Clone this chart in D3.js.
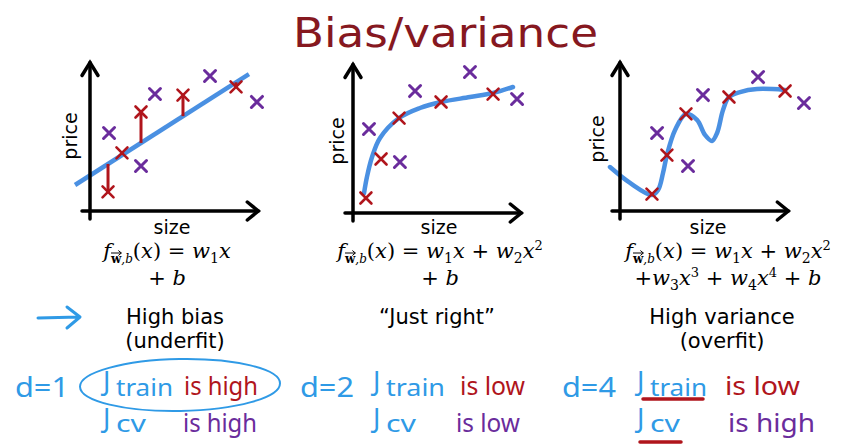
<!DOCTYPE html>
<html>
<head>
<meta charset="utf-8">
<script src="https://cdn.jsdelivr.net/npm/d3@7"></script>
<style>
  body { margin: 0; background: #fff; }
  svg { display: block; }
</style>
</head>
<body>
<div id="chart"></div>
<script>
// data, in (size, price) units of 0..10
var trainHigh = [[1.06, 1.27], [1.88, 3.87], [3.0, 6.6], [5.47, 7.73], [8.59, 8.27]]
var cvHigh = [[1.12, 5.2], [3.82, 7.8], [3.0, 3.0], [7.06, 9.0], [9.82, 7.27]]
var lineFit = { w1: 0.723, b: 2.37, from: -0.88, to: 9.35 }

var trainMid = [[0.76, 1.0], [1.65, 3.6], [2.71, 6.33], [5.18, 7.4], [8.24, 7.93]]
var cvMid = [[0.94, 5.6], [2.76, 3.4], [3.65, 8.13], [6.88, 9.4], [9.65, 7.6]]
var curveMid = [[0.65, 1.33], [0.82, 2.4], [1.12, 3.73], [1.59, 5.0], [2.71, 6.33],
  [3.94, 7.0], [5.18, 7.4], [6.88, 7.73], [8.24, 8.0], [9.41, 8.4]]

var trainLow = [[1.88, 1.13], [2.76, 3.73], [3.88, 6.47], [6.41, 7.6], [9.71, 8.0]]
var cvLow = [[2.18, 5.2], [4.0, 3.0], [4.88, 7.73], [8.12, 8.93], [10.82, 7.2]]
var curveLow = [[-0.59, 2.93], [0.59, 1.87], [1.88, 1.07], [2.24, 1.4], [2.53, 2.53],
  [2.76, 3.73], [3.24, 5.4], [3.88, 6.47], [4.53, 6.07], [5.0, 5.07], [5.41, 4.67],
  [5.71, 5.2], [6.06, 6.73], [6.41, 7.6], [7.06, 7.93], [8.06, 8.13], [9.71, 8.07]]

var fitLabels = [['High bias', '(underfit)'], ['\u201cJust right\u201d'], ['High variance', '(overfit)']]
var degrees = ['d=1', 'd=2', 'd=4']
var trainVerdict = ['is high', 'is low', 'is low']
var cvVerdict = ['is high', 'is low', 'is high']

var width = 841
var height = 444

var svg = d3.select('#chart')
  .append('svg')
  .attr('width', width)
  .attr('height', height)

var RED = '#b0151c'
var PURPLE = '#6a2c9c'
var BLUE = '#4a90e2'
var INK = '#2f9ae6'

// title
svg.append('text')
  .attr('x', 293)
  .attr('y', 47)
  .attr('font-family', 'DejaVu Sans')
  .attr('font-size', 41)
  .attr('fill', '#86181f')
  .attr('textLength', 305)
  .attr('lengthAdjust', 'spacingAndGlyphs')
  .text('Bias/variance')

var panels = [
  { ox: 90, oy: 211, train: trainHigh, cv: cvHigh, priceX: 77, priceY: 136, sizeX: 172 },
  { ox: 353, oy: 213, train: trainMid, cv: cvMid, curve: curveMid, priceX: 344, priceY: 141, sizeX: 439 },
  { ox: 620, oy: 211, train: trainLow, cv: cvLow, curve: curveLow, priceX: 604, priceY: 139, sizeX: 708 }
]

var cross = 'M-5.5,-5.5L5.5,5.5M-5.5,5.5L5.5,-5.5'

panels.forEach(function(p, i) {
  var x = d3.scaleLinear().domain([0, 10]).range([p.ox, p.ox + 170])
  var y = d3.scaleLinear().domain([0, 10]).range([p.oy, p.oy - 150])
  var g = svg.append('g')

  // fit line / curve
  if (i === 0) {
    var ends = [lineFit.from, lineFit.to]
    g.append('path')
      .attr('d', d3.line().x(d => x(d)).y(d => y(lineFit.w1 * d + lineFit.b))(ends))
      .attr('stroke', BLUE)
      .attr('stroke-width', 4.5)
      .attr('fill', 'none')
    // residuals
    g.selectAll('.res')
      .data(p.train)
      .enter()
      .append('line')
      .attr('x1', d => x(d[0]))
      .attr('x2', d => x(d[0]))
      .attr('y1', d => y(d[1]))
      .attr('y2', d => y(lineFit.w1 * d[0] + lineFit.b))
      .attr('stroke', RED)
      .attr('stroke-width', 3)
  } else {
    g.append('path')
      .attr('d', d3.line().x(d => x(d[0])).y(d => y(d[1])).curve(d3.curveCatmullRom)(p.curve))
      .attr('stroke', BLUE)
      .attr('stroke-width', 4.5)
      .attr('stroke-linecap', 'round')
      .attr('fill', 'none')
  }

  // axes with open arrowheads
  var top = y(9.9)
  var right = x(9.9)
  var ax = g.append('g')
    .attr('stroke', '#000')
    .attr('stroke-width', 3.5)
    .attr('fill', 'none')
    .attr('stroke-linecap', 'round')
  ax.append('line').attr('x1', p.ox).attr('x2', p.ox).attr('y1', p.oy + 8).attr('y2', top)
  ax.append('line').attr('x1', p.ox - 8).attr('x2', right).attr('y1', p.oy).attr('y2', p.oy)
  ax.append('path').attr('d', 'M' + (p.ox - 8) + ',' + (top + 13) + 'L' + p.ox + ',' + top + 'L' + (p.ox + 8) + ',' + (top + 13))
  ax.append('path').attr('d', 'M' + (right - 11) + ',' + (p.oy - 9) + 'L' + right + ',' + p.oy + 'L' + (right - 11) + ',' + (p.oy + 9))

  // data crosses
  g.selectAll('.cv')
    .data(p.cv)
    .enter()
    .append('path')
    .attr('d', cross)
    .attr('transform', d => 'translate(' + x(d[0]) + ',' + y(d[1]) + ')')
    .attr('stroke', PURPLE)
    .attr('stroke-width', 3)
    .attr('stroke-linecap', 'round')
  g.selectAll('.tr')
    .data(p.train)
    .enter()
    .append('path')
    .attr('d', cross)
    .attr('transform', d => 'translate(' + x(d[0]) + ',' + y(d[1]) + ')')
    .attr('stroke', RED)
    .attr('stroke-width', 2.6)
    .attr('stroke-linecap', 'round')

  g.append('text')
    .attr('transform', 'translate(' + p.priceX + ',' + p.priceY + ') rotate(-90)')
    .attr('text-anchor', 'middle')
    .attr('font-family', 'DejaVu Sans')
    .attr('font-size', 19)
    .text('price')
  g.append('text')
    .attr('x', p.sizeX)
    .attr('y', 234)
    .attr('text-anchor', 'middle')
    .attr('font-family', 'DejaVu Sans')
    .attr('font-size', 19)
    .text('size')
})

// model formulas
var head = [['f', 'i'], ['w', 'vec'], [',b', 'sub'], ['(', 'r'], ['x', 'i'], [') = ', 'r'], ['w', 'i'], ['1', 'sub'], ['x', 'i']]
var sq = [[' + ', 'r'], ['w', 'i'], ['2', 'sub'], ['x', 'i'], ['2', 'sup']]
var formulas = [
  { cx: 167, lines: [head, [['+ ', 'r'], ['b', 'i']]] },
  { cx: 440, lines: [head.concat(sq), [['+ ', 'r'], ['b', 'i']]] },
  { cx: 728, lines: [head.concat(sq), [['+', 'r'], ['w', 'i'], ['3', 'sub'], ['x', 'i'], ['3', 'sup'], [' + ', 'r'], ['w', 'i'], ['4', 'sub'], ['x', 'i'], ['4', 'sup'], [' + ', 'r'], ['b', 'i']]] }
]
formulas.forEach(function(f) {
  f.lines.forEach(function(segs, li) {
    var t = svg.append('text')
      .attr('x', f.cx)
      .attr('y', li === 0 ? 258 : 285)
      .attr('text-anchor', 'middle')
      .attr('font-family', 'DejaVu Serif')
      .attr('font-size', 21)
      .style('white-space', 'pre')
    var shift = 0
    var vecs = []
    segs.forEach(function(s) {
      var want = (s[1] === 'sub' || s[1] === 'vec') ? 5 : s[1] === 'sup' ? -8 : 0
      var ts = t.append('tspan')
        .attr('dy', want - shift)
        .text(s[0])
      shift = want
      if (s[1] === 'i') ts.attr('font-style', 'italic')
      if (s[1] === 'sub') ts.attr('font-size', s[0].length > 1 ? 12 : 14).attr('font-style', s[0].length > 1 ? 'italic' : 'normal')
      if (s[1] === 'vec') { ts.attr('font-size', 12).attr('font-weight', 'bold'); vecs.push(ts) }
      if (s[1] === 'sup') ts.attr('font-size', 13)
    })
    // arrow over the bold w
    vecs.forEach(function(ts) {
      var r = ts.node().getExtentOfChar(0)
      var ay = r.y + 1
      svg.append('path')
        .attr('d', 'M' + r.x + ',' + ay + 'L' + (r.x + r.width) + ',' + ay +
          'M' + (r.x + r.width - 3) + ',' + (ay - 2.5) + 'L' + (r.x + r.width) + ',' + ay + 'L' + (r.x + r.width - 3) + ',' + (ay + 2.5))
        .attr('stroke', '#000')
        .attr('stroke-width', 1)
        .attr('fill', 'none')
    })
  })
})

// fit verdicts
var labelX = [175, 437, 722]
fitLabels.forEach(function(lines, i) {
  lines.forEach(function(s, li) {
    svg.append('text')
      .attr('x', labelX[i])
      .attr('y', 324 + li * 24)
      .attr('text-anchor', 'middle')
      .attr('font-family', 'DejaVu Sans')
      .attr('font-size', 21)
      .text(s)
  })
})

// hand-drawn arrow
svg.append('path')
  .attr('d', 'M38,318L79,317M67,307L80,317L67,328')
  .attr('stroke', INK)
  .attr('stroke-width', 3)
  .attr('stroke-linecap', 'round')
  .attr('stroke-linejoin', 'round')
  .attr('fill', 'none')

// handwritten notes
var hand = 'Noto Sans'
var dX = [15, 300, 562]
var jX = [103, 373, 637]
var trainVX = [[184, 74], [460, 65], [725, 75]]
var cvVX = [[183, 74], [456, 64], [728, 87]]
var trainW = [70, 72, 70]

function note(xp, yp, str, color, size, len) {
  var t = svg.append('text')
    .attr('x', xp)
    .attr('y', yp)
    .attr('font-family', hand)
    .attr('font-size', size)
    .attr('fill', color)
    .text(str)
  if (len) t.attr('textLength', len).attr('lengthAdjust', 'spacingAndGlyphs')
  return t
}

degrees.forEach(function(d, i) {
  note(dX[i], 397, d, INK, 28, 54)
  note(jX[i], 391, 'J', INK, 27)
  note(jX[i] + 13, 396, 'train', INK, 24, trainW[i] - 13)
  note(jX[i], 428, 'J', INK, 27)
  note(jX[i] + 13, 432, 'cv', INK, 24, 30)
  note(trainVX[i][0], 395, trainVerdict[i], RED, 25, trainVX[i][1])
  note(cvVX[i][0], 432, cvVerdict[i], PURPLE, 25, cvVX[i][1])
})

// circle around the underfit training error
svg.append('ellipse')
  .attr('cx', 180)
  .attr('cy', 385)
  .attr('rx', 100)
  .attr('ry', 26)
  .attr('transform', 'rotate(-1 180 385)')
  .attr('stroke', INK)
  .attr('stroke-width', 2)
  .attr('fill', 'none')

// underlines on the overfit errors
svg.append('path')
  .attr('d', 'M643,399L703,399M640,442L681,442')
  .attr('stroke', RED)
  .attr('stroke-width', 3.5)
  .attr('stroke-linecap', 'round')
</script>
</body>
</html>
